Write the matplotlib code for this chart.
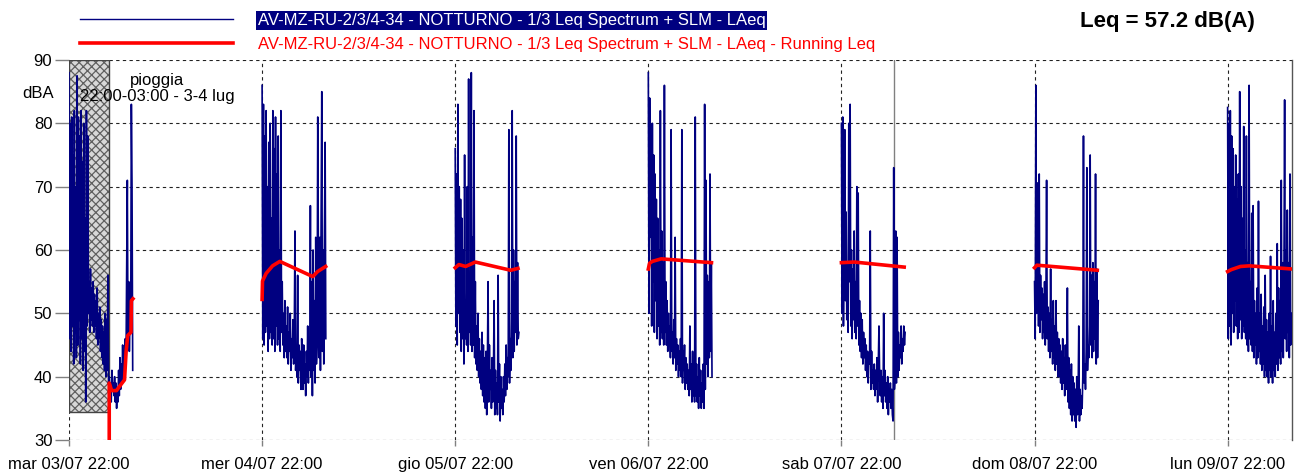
import pandas as pd
import matplotlib
matplotlib.use("Agg")
import matplotlib.pyplot as plt
import matplotlib.dates as mdates
from matplotlib.patches import Rectangle

plt.rcParams["font.family"] = ["Liberation Sans", "DejaVu Sans"]
plt.rcParams["hatch.linewidth"] = 0.9

# Nights 22:00 -> 06:00, one LAeq value every 5 minutes (12 per row = 1 hour)
NIGHT_STARTS = ["2018-07-03 22:00", "2018-07-04 22:00", "2018-07-05 22:00",
                "2018-07-06 22:00", "2018-07-07 22:00", "2018-07-08 22:00",
                "2018-07-09 22:00"]

NIGHT_1 = [88, 46, 80, 44, 81, 48, 75, 42, 82, 47, 70, 43,
           87.5, 45, 81, 49, 78, 42, 82, 46, 74, 41, 80, 44,
           65, 36, 82, 48, 78, 50, 55, 47, 57, 49, 54, 48,
           55, 47, 53, 48, 52, 46, 54, 45, 50, 46, 51, 44,
           49, 43, 48, 42, 47, 41, 50, 40, 49, 41, 56, 39,
           40, 37, 39, 36, 41, 38, 39, 37, 40, 36, 39, 35,
           38, 36, 41, 37, 43, 38, 42, 39, 45, 40, 44, 41,
           46, 42, 57, 71, 45, 55, 44, 50, 47, 83, 70, 41]
NIGHT_2 = [86, 46, 83, 45, 78, 47, 82, 48, 70, 44, 77, 46,
           80, 47, 65, 45, 82, 46, 76, 44, 81, 48, 72, 45,
           78, 46, 60, 44, 82, 47, 55, 45, 50, 43, 52, 44,
           48, 43, 51, 42, 47, 44, 50, 41, 46, 43, 49, 42,
           47, 63, 41, 44, 40, 56, 39, 45, 41, 44, 38, 46,
           43, 38, 45, 39, 42, 37, 44, 40, 48, 39, 46, 41,
           67, 40, 55, 37, 60, 41, 52, 39, 62, 42, 45, 81,
           58, 43, 62, 41, 65, 85, 44, 60, 42, 63, 77, 46]
NIGHT_3 = [76, 48, 72, 45, 83, 50, 70, 47, 68, 44, 65, 46,
           60, 42, 75, 46, 52, 45, 70, 44, 87, 47, 55, 45,
           88, 44, 62, 45, 82, 43, 55, 42, 48, 41, 50, 40,
           46, 39, 44, 38, 47, 37, 45, 36, 43, 35, 44, 34,
           42, 55, 36, 45, 38, 41, 35, 43, 36, 40, 52, 34,
           41, 35, 39, 34, 56, 36, 42, 33, 40, 35, 38, 34,
           40, 36, 42, 37, 45, 38, 43, 40, 79, 39, 46, 41,
           50, 82, 43, 60, 44, 55, 47, 78, 45, 58, 46, 47]
NIGHT_4 = [88, 50, 84, 62, 78, 48, 80, 55, 75, 47, 72, 52,
           68, 46, 65, 48, 60, 45, 82, 47, 63, 46, 58, 45,
           86, 47, 55, 45, 52, 44, 50, 45, 48, 43, 79, 44,
           47, 42, 49, 43, 62, 41, 46, 42, 45, 40, 44, 41,
           46, 40, 79, 39, 44, 41, 45, 38, 43, 39, 42, 38,
           41, 37, 48, 38, 42, 36, 44, 37, 40, 36, 81, 37,
           42, 36, 40, 35, 43, 37, 41, 35, 39, 36, 42, 35,
           83, 38, 71, 42, 56, 40, 55, 43, 72, 44, 58, 40]
NIGHT_5 = [80, 50, 81, 48, 62, 79, 52, 66, 49, 58, 47, 80,
           55, 83, 48, 60, 46, 57, 49, 63, 47, 55, 46, 70,
           48, 69, 45, 52, 44, 50, 43, 49, 42, 47, 43, 46,
           41, 45, 40, 44, 39, 43, 42, 63, 38, 44, 39, 41,
           38, 42, 37, 41, 38, 43, 36, 42, 48, 40, 37, 41,
           36, 40, 35, 50, 37, 41, 36, 39, 35, 40, 34, 38,
           36, 39, 35, 38, 34, 33, 73, 38, 40, 63, 39, 62,
           40, 47, 41, 45, 43, 48, 42, 46, 44, 48, 45, 47]
NIGHT_6 = [55, 46, 86, 50, 58, 70.6, 48, 72, 47, 56, 49, 54,
           46, 53, 47, 55, 45, 52, 71, 46, 51, 44, 50, 43,
           57, 44, 49, 42, 52, 43, 48, 41, 52, 42, 47, 40,
           46, 40, 45, 39, 44, 38, 46, 39, 43, 37, 45, 38,
           42, 54, 36, 43, 35, 41, 34, 42, 33, 40, 34, 39,
           33, 38, 32, 40, 34, 37, 48, 33, 38, 34, 37, 35,
           40, 78, 39, 42, 38, 44, 73, 41, 45, 43, 48, 75,
           45, 56, 43, 58, 44, 55, 46, 72, 42, 57, 43, 52]
NIGHT_7 = [82.5, 46, 80, 48, 82, 45, 78, 50, 76, 47, 70, 52,
           75, 48, 68, 46, 72, 47, 85, 49, 70, 46, 65, 48,
           79.5, 47, 60, 46, 78, 45, 58, 44, 86, 46, 55, 45,
           65.8, 44, 67, 43, 52, 45, 50, 42, 54, 43, 67.7, 44,
           50, 42, 53, 41, 48, 42, 51, 40, 56, 41, 49, 40,
           47, 39, 50, 41, 59, 40, 48, 39, 52, 41, 47, 40,
           50, 42, 61, 41, 54, 43, 52, 42, 71, 44, 58, 43,
           56, 83.7, 46, 60, 44, 66.3, 47, 58, 43, 72, 45, 50]
NIGHTS = [NIGHT_1, NIGHT_2, NIGHT_3, NIGHT_4, NIGHT_5, NIGHT_6, NIGHT_7]

# Running Leq: hours after 22:00 and value
RUN_HOURS = [[5.0, 5.0, 5.3, 5.9, 6.3, 6.9, 7.1, 7.3, 7.7, 7.75, 7.95],
             [0, 0.05, 0.5, 1.3, 2.2, 6.3, 6.9, 7.9],
             [0, 0.46, 1.3, 2.5, 6.9, 7.8],
             [0, 0.15, 0.5, 1.6, 7.85],
             [0, 1.6, 7.8],
             [0, 0.3, 7.8],
             [0, 0.45, 1.6, 2.7, 8.0]]
RUN_VALUES = [[30, 39, 37.8, 37.8, 38.5, 39.5, 44, 46.5, 47, 52, 52.3],
              [52.2, 55.1, 56.3, 57.5, 58.2, 55.8, 56.6, 57.4],
              [57.2, 57.7, 57.4, 58.1, 56.8, 57.1],
              [57.0, 57.9, 58.2, 58.6, 58.0],
              [58.0, 58.1, 57.3],
              [57.2, 57.6, 56.8],
              [56.6, 56.9, 57.4, 57.5, 57.0]]

TICK_LABELS = ["mar 03/07 22:00", "mer 04/07 22:00", "gio 05/07 22:00",
               "ven 06/07 22:00", "sab 07/07 22:00", "dom 08/07 22:00",
               "lun 09/07 22:00"]
LEGEND_LABELS = ["AV-MZ-RU-2/3/4-34 - NOTTURNO - 1/3 Leq Spectrum + SLM - LAeq",
                 "AV-MZ-RU-2/3/4-34 - NOTTURNO - 1/3 Leq Spectrum + SLM - LAeq - Running Leq"]
RAIN_START = "2018-07-03 22:00"
RAIN_END = "2018-07-04 03:00"
RAIN_BOTTOM = 34.4
CURSOR = "2018-07-08 04:30"
X_END = "2018-07-10 06:00"
LEQ_TOTAL = 57.2

fig = plt.figure(figsize=(13, 4.76), dpi=100)
ax = fig.add_axes([69 / 1300, 36 / 476, 1223 / 1300, 380 / 476])

# rain period box
r0 = mdates.date2num(pd.Timestamp(RAIN_START))
r1 = mdates.date2num(pd.Timestamp(RAIN_END))
ax.add_patch(Rectangle((r0, RAIN_BOTTOM), r1 - r0, 90 - RAIN_BOTTOM,
                       facecolor="#d8d8d8", edgecolor="#606060", hatch="xxxx",
                       lw=0, zorder=1))
ax.add_patch(Rectangle((r0, RAIN_BOTTOM), r1 - r0, 90 - RAIN_BOTTOM,
                       fill=False, edgecolor="#444444", lw=1, zorder=1.1))

# LAeq per night
for start, vals in zip(NIGHT_STARTS, NIGHTS):
    t = pd.date_range(start, periods=len(vals), freq="5min")
    blue_line, = ax.plot(t, vals, color="#000080", lw=1.2, zorder=3)

# running Leq per night
for start, hrs, vals in zip(NIGHT_STARTS, RUN_HOURS, RUN_VALUES):
    t = pd.Timestamp(start) + pd.to_timedelta(hrs, unit="h")
    red_line, = ax.plot(t, vals, color="#ff0000", lw=2.6, zorder=4)

ax.axvline(pd.Timestamp(CURSOR), color="#808080", lw=1, zorder=2)

ax.set_xlim(pd.Timestamp(NIGHT_STARTS[0]), pd.Timestamp(X_END))
ax.set_ylim(30, 90)
ax.set_yticks(range(30, 91, 10))
ax.set_xticks([pd.Timestamp(s) for s in NIGHT_STARTS])
ax.set_xticklabels(TICK_LABELS)
ax.grid(True, linestyle=(0, (3, 3)), color="#222222", lw=0.8)
ax.set_axisbelow(True)
ax.tick_params(axis="y", length=10, color="#808080", width=1, pad=2, labelsize=12)
ax.tick_params(axis="x", length=4, color="#808080", width=1, pad=8, labelsize=12)
for side in ["left", "top", "bottom"]:
    ax.spines[side].set_visible(False)
ax.spines["right"].set_color("#555555")
ax.spines["right"].set_linewidth(1)

ax.text(0.072, 0.925, "pioggia\n22:00-03:00 - 3-4 lug", transform=ax.transAxes,
        ha="center", va="center", fontsize=12, linespacing=1.1, zorder=5)
ax.text(-0.0253, 0.913, "dBA", transform=ax.transAxes, ha="center", va="center",
        fontsize=12)

leg = fig.legend(handles=[blue_line, red_line], labels=LEGEND_LABELS,
                 loc="upper left", bbox_to_anchor=(80 / 1300, 1 - 13 / 476),
                 frameon=False, fontsize=12, handlelength=9.2,
                 handletextpad=1.45, labelspacing=0.55, borderpad=0,
                 borderaxespad=0)
leg.get_lines()[0].set_linewidth(1.0)
texts = leg.get_texts()
texts[0].set_color("white")
texts[0].set_bbox(dict(facecolor="#000080", edgecolor="none", pad=1.5))
texts[1].set_color("#ff0000")

fig.text(1255 / 1300, 1 - 22 / 476, "Leq = %.1f dB(A)" % LEQ_TOTAL,
         ha="right", va="center", fontsize=16, fontweight="bold")

fig.savefig("out.png", dpi=100)
